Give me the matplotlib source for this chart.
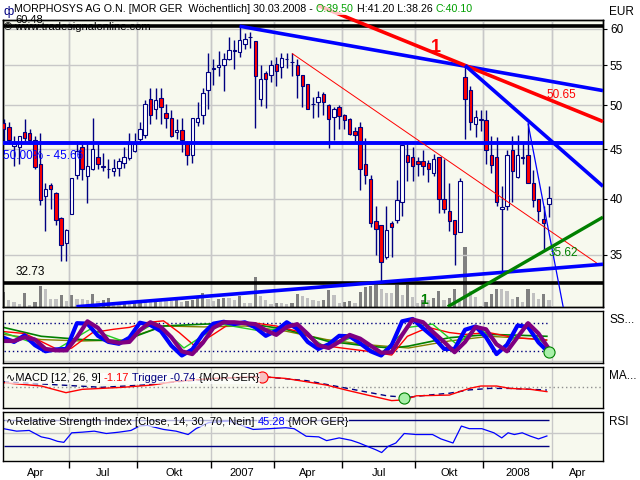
import numpy as np
import pandas as pd
import matplotlib
matplotlib.use("Agg")
import matplotlib.pyplot as plt
from matplotlib.ticker import FixedLocator, FixedFormatter, NullLocator

plt.rcParams['font.family'] = ['Liberation Sans', 'DejaVu Sans']

# ---- weekly candles MOR GER ----
start_date = "2006-04-02"
opens = [47.9, 47.5, 45.4, 45.3, 46.9, 46.8, 46.0, 43.5, 40.3, 41.3,
         40.5, 38.2, 36.0, 38.6, 42.3, 45.3, 42.2, 42.9, 44.2, 43.1,
         42.95, 42.7, 43.0, 43.6, 44.1, 44.8, 46.1, 46.6, 50.7, 49.5,
         50.9, 49.1, 48.5, 46.9, 47.15, 45.6, 44.4, 48.0, 48.8, 51.9,
         54.5, 54.8, 55.1, 55.8, 56.9, 56.8, 57.9, 58.8, 58.3, 50.8,
         54.0, 53.7, 55.2, 54.8, 55.8, 55.5, 55.0, 53.8, 52.6, 50.1,
         50.4, 51.4, 50.0, 48.6, 49.8, 48.8, 48.4, 47.0, 47.5, 43.5,
         41.9, 37.9, 37.6, 34.8, 37.7, 38.0, 39.7, 44.4, 44.2, 43.8,
         43.8, 43.55, 42.5, 44.2, 40.0, 38.8, 38.0, 36.9, 53.5, 51.9,
         47.8, 48.3, 48.3, 44.4, 44.2, 39.0, 39.3, 44.96, 42.1, 44.1,
         44.4, 41.5, 40.0, 38.1, 39.5]
highs = [48.4, 48.1, 46.5, 46.5, 48.4, 47.3, 46.5, 46.8, 41.5, 41.5,
         40.6, 38.3, 37.2, 42.0, 45.9, 45.6, 45.6, 48.5, 45.6, 44.6,
         44.0, 44.0, 44.1, 45.3, 46.8, 46.8, 48.0, 50.65, 52.1, 52.1,
         52.1, 50.2, 49.4, 48.4, 48.5, 45.9, 48.5, 50.4, 52.1, 56.6,
         55.8, 56.9, 56.7, 58.8, 58.4, 60.4, 59.4, 59.6, 58.3, 55.1,
         54.3, 55.7, 56.1, 56.6, 56.6, 56.6, 55.9, 53.8, 52.6, 51.0,
         51.7, 51.6, 50.1, 49.8, 50.0, 49.0, 48.5, 47.5, 48.0, 46.2,
         42.35, 39.3, 37.6, 39.3, 37.9, 41.85, 45.5, 45.6, 45.3, 44.2,
         44.96, 43.9, 44.5, 44.2, 44.0, 41.5, 38.0, 42.0, 54.9, 52.3,
         49.45, 49.45, 49.45, 46.5, 46.4, 41.2, 44.96, 46.5, 46.6, 45.8,
         47.9, 42.8, 40.0, 39.3, 41.2]
lows = [45.9, 45.6, 43.2, 43.5, 45.8, 45.6, 42.9, 39.4, 37.0, 39.0,
        37.6, 34.5, 34.5, 38.6, 41.9, 41.8, 39.6, 42.8, 42.9, 42.7,
        42.0, 42.2, 42.2, 43.0, 43.9, 44.75, 45.8, 46.2, 47.8, 48.4,
        47.8, 47.4, 46.3, 46.1, 44.7, 43.4, 43.6, 47.6, 47.8, 49.5,
        52.5, 53.6, 51.7, 55.7, 54.5, 56.1, 57.2, 57.4, 47.4, 49.9,
        49.7, 52.8, 52.4, 53.4, 54.6, 53.6, 50.9, 49.8, 49.5, 48.5,
        48.6, 48.9, 45.1, 46.0, 47.3, 47.2, 46.6, 45.9, 40.8, 41.4,
        37.4, 35.0, 32.8, 34.6, 34.8, 37.7, 38.4, 41.7, 41.7, 42.2,
        42.35, 41.6, 42.25, 38.7, 38.7, 37.0, 34.1, 36.9, 46.1, 47.1,
        46.3, 47.0, 43.5, 42.5, 39.3, 33.6, 38.96, 39.7, 42.0, 43.5,
        41.5, 39.2, 37.9, 35.4, 38.26]
closes = [47.3, 46.0, 45.6, 46.5, 46.2, 46.0, 43.1, 39.9, 40.9, 40.9,
          38.0, 35.8, 37.1, 42.0, 44.8, 42.9, 43.2, 45.0, 43.5, 43.2,
          42.9, 43.0, 43.8, 44.2, 45.6, 45.6, 47.2, 50.2, 48.8, 50.65,
          49.8, 48.5, 46.5, 47.15, 46.0, 44.4, 48.5, 48.5, 51.5, 54.2,
          54.6, 55.0, 55.9, 57.0, 57.0, 58.45, 58.6, 58.8, 53.6, 53.3,
          53.3, 55.0, 54.3, 56.0, 55.9, 55.4, 53.7, 52.3, 49.5, 50.2,
          51.0, 50.4, 48.4, 49.6, 48.7, 48.3, 46.7, 46.6, 42.9, 42.35,
          37.7, 37.2, 34.4, 37.1, 37.4, 39.9, 45.5, 43.7, 43.3, 43.5,
          43.3, 42.95, 44.0, 40.0, 39.0, 37.9, 36.8, 41.7, 50.7, 48.1,
          48.6, 48.3, 44.9, 43.4, 39.7, 39.2, 44.4, 42.7, 44.4, 44.1,
          41.5, 39.9, 38.8, 37.7, 40.1]
volume = [150, 67, 50, 27, 140, 17, 50, 207, 177, 77,
          77, 117, 57, 117, 77, 77, 67, 127, 57, 67,
          93, 40, 33, 40, 33, 50, 67, 67, 57, 73,
          73, 60, 60, 67, 50, 60, 67, 93, 140, 77,
          60, 83, 93, 93, 67, 107, 40, 40, 300, 107,
          67, 27, 40, 40, 27, 40, 133, 107, 93, 67,
          60, 67, 167, 117, 40, 50, 57, 40, 150, 200,
          210, 217, 183, 140, 140, 217, 117, 217, 100, 40,
          67, 67, 93, 160, 67, 93, 183, 67, 600, 157,
          100, 7, 50, 127, 183, 183, 160, 83, 100, 50,
          183, 140, 83, 127, 73]

# horizontal levels and trend lines (bar index, price)
level_top = 60.48
level_low = 32.73
level_mid = 45.66
trend_blue_top = [(45, 60.4), (88, 54.9)]
trend_red_top = [(88, 55.0), (114.3, 48.1)]
trend_blue_steep = [(88, 55.0), (114.3, 41.2)]
trend_blue_thin = [(100, 47.9), (106.7, 30.9)]
trend_red_thin = [(55, 56.6), (113.1, 34.3)]
trend_blue_low = [(13.9, 30.9), (114.3, 34.2)]
trend_green = [(84.7, 30.9), (113.3, 38.0)]

# ---- oscillator panel "SS..." ----
stoch_weeks = list(range(0, 105, 2))
stoch_fast = [49, 40, 54, 33, 20, 24, 25, 80, 79, 53, 40, 36, 49, 81, 76, 63, 32, 11, 24, 57,
              79, 83, 78, 82, 71, 53, 64, 82, 68, 40, 25, 35, 53, 52, 37, 20, 11, 33, 84, 89,
              69, 50, 25, 25, 66, 73, 50, 14, 34, 75, 72, 39, 17]
stoch_slow = [42, 42, 50, 45, 25, 22, 22, 50, 84, 70, 42, 38, 40, 65, 82, 72, 50, 20, 14, 38,
              70, 82, 82, 80, 78, 65, 55, 72, 78, 57, 33, 27, 40, 55, 47, 32, 17, 18, 55, 88,
              82, 60, 40, 18, 40, 72, 67, 35, 20, 50, 80, 58, 25]
red_weeks = [0, 4, 7, 11, 13, 17, 21, 24, 27, 30.5, 33.5, 36.5, 40, 43, 47.5, 52, 57, 60,
             64.5, 69.5, 74, 77, 81, 85, 88, 92.5, 97.5, 103.5]
red_vals = [62, 58, 42, 20, 27, 60, 67, 71, 81, 85, 60, 31, 56, 78, 81, 74, 60, 34,
            27, 20, 12, 52, 71, 60, 56, 60, 49, 44]
green_weeks = [0, 7.2, 15, 22.7, 30.5, 38.3, 46.1, 53.8, 61.6, 69.4, 74, 77.2, 85, 92.7, 98.9, 103.6]
green_vals = [71, 52, 45, 42, 74, 78, 80, 67, 42, 31, 27, 31, 49, 56, 54, 52]
olive_weeks = [0, 7.2, 15, 22.7, 30.5, 38.3, 46.1, 53.8, 61.6, 69.4, 77.2, 85, 92.7, 100.5, 103.6]
olive_vals = [56, 45, 42, 44, 74, 72, 74, 63, 45, 34, 27, 42, 52, 47, 44]
lime_weeks = [0, 5.6, 9.5, 16.5, 22.7, 29, 34.4, 41.4, 49.2, 55.4, 61.6, 66.3, 71.7, 77.2,
              81.8, 86.5, 90.4, 95, 99.7, 103.6]
lime_vals = [60, 38, 20, 67, 42, 81, 27, 78, 63, 74, 27, 49, 13, 71, 78, 34, 74, 27, 71, 31]

# ---- MACD ----
macd_weeks = [0, 7.2, 11.9, 15, 22.7, 28.2, 32.9, 39.9, 49.2, 53.8, 57.8, 61.6, 65.5, 69.4,
              74, 76.4, 78.7, 85, 88.8, 91, 94, 96.6, 100.5, 103.6]
macd_vals = [1.25, 0.35, -1.45, -0.55, 0.0, 0.6, 1.6, 2.4, 2.9, 2.4, 1.5, 0.6, -0.8, -2.1,
             -3.6, -3.4, -2.3, -2.1, -0.3, 0.35, 0.35, -0.3, -0.55, -1.17]
trig_weeks = [0, 11.1, 18.8, 26.5, 33, 40, 49.2, 57.8, 65.5, 73.3, 77.2, 81, 85, 88.8,
              92.7, 96.6, 100.5, 103.6]
trig_vals = [1.5, 0.6, 0.0, 0.6, 1.5, 2.3, 2.9, 1.8, -0.27, -2.35, -2.7, -2.1, -1.6, -0.7,
             -0.3, -0.3, -0.55, -0.74]

# ---- RSI ----
rsi_weeks = [0, 2.5, 4.9, 7.2, 8.8, 10.3, 11.5, 13.0, 15.0, 17.3, 19.6, 22.0, 24.3, 25.9,
             27.4, 30.5, 32.9, 35.2, 36.7, 39.1, 43.0, 47.6, 50.7, 53.8, 55.4, 57.7, 60.1,
             61.6, 64.0, 66.3, 67.8, 69.4, 71.0, 72.1, 73.3, 74.8, 76.4, 78.7, 81.8, 83.4,
             85.7, 87.3, 88.8, 91.2, 93.5, 95.0, 96.2, 97.4, 98.9, 100.5, 102.0, 103.6]
rsi_vals = [56.8, 52.9, 54.0, 43.9, 41.2, 36.9, 35.3, 50.3, 51.3, 52.9, 49.2, 51.3, 54.0, 60.9,
            62.0, 55.6, 52.9, 47.6, 56.8, 66.3, 68.9, 55.6, 56.8, 58.3, 56.8, 44.9, 43.9,
            38.0, 42.3, 38.5, 34.3, 28.9, 23.6, 19.3, 28.9, 34.3, 49.2, 47.6, 47.6, 40.7,
            34.3, 60.9, 56.8, 56.8, 50.3, 42.3, 50.3, 47.6, 50.3, 44.9, 40.7, 45.3]

month_names = {1: None, 4: "Apr", 7: "Jul", 10: "Okt"}

BG = "#F7F9EE"
NAVY = "#000080"
GRID = "#C8C8C8"
BLUE = "#0000FF"
RED = "#FF0000"
GREEN = "#008000"

n = len(closes)
idx = np.arange(n)
xmin, xmax = -0.1, 114.3

fig = plt.figure(figsize=(6.4, 4.8), dpi=100)


def box(x0, y0, x1, y1):
    # pixel box -> figure fraction
    return [x0 / 640, 1 - y1 / 480, (x1 - x0) / 640, (y1 - y0) / 480]


ax_v = fig.add_axes(box(3, 20, 603, 307))
ax = fig.add_axes(box(3, 20, 603, 307), sharex=ax_v)
ax_s = fig.add_axes(box(3, 311, 603, 363), sharex=ax_v)
ax_m = fig.add_axes(box(3, 367, 603, 408), sharex=ax_v)
ax_r = fig.add_axes(box(3, 412, 603, 461), sharex=ax_v)

ax_v.set_zorder(0)
ax.set_zorder(1)
ax.patch.set_visible(False)
for a in (ax_v, ax_s, ax_m, ax_r):
    a.set_facecolor(BG)
for a in (ax_v, ax, ax_s, ax_m, ax_r):
    for sp in a.spines.values():
        sp.set_color("black")
        sp.set_linewidth(1)

# quarter boundaries from the weekly dates
all_dates = pd.date_range(start_date, periods=120, freq="7D")
bounds, names = [-0.5], ["Apr"]
for i in range(1, len(all_dates)):
    m = all_dates[i].month
    if m != all_dates[i - 1].month and m in month_names:
        bounds.append(i - 0.5)
        names.append(month_names[m] or str(all_dates[i].year))
label_pos, label_txt = [], []
for k in range(len(bounds)):
    lo = max(bounds[k], xmin)
    hi = min(bounds[k + 1], xmax) if k + 1 < len(bounds) else xmax
    if lo < xmax:
        label_pos.append((lo + hi) / 2)
        label_txt.append(names[k])
vis_bounds = [b for b in bounds if xmin - 1 < b < xmax]

ax_v.set_xlim(xmin, xmax)
ax_r.xaxis.set_major_locator(FixedLocator(vis_bounds))
ax_r.xaxis.set_minor_locator(FixedLocator(label_pos))
ax_r.xaxis.set_minor_formatter(FixedFormatter(label_txt))
for a in (ax_v, ax, ax_s, ax_m, ax_r):
    a.grid(True, axis="x", which="major", color=GRID, lw=1)
    a.set_axisbelow(True)
    a.tick_params(axis="x", which="both", bottom=False, labelbottom=False)
    a.tick_params(axis="y", left=False, labelleft=False)

ax_r.tick_params(axis="x", which="major", bottom=True, direction="out", length=5, width=1)
ax_r.tick_params(axis="x", which="minor", bottom=False, labelbottom=True, labelsize=8, pad=3)

# ---- volume (behind price) ----
vol_colors = ["#808080" if i == 0 or volume[i] > volume[i - 1] else "#C0C0C0" for i in range(n)]
ax_v.bar(idx, volume, width=0.62, color=vol_colors, zorder=1)
ax_v.set_ylim(0, 2870)
ax_v.set_yticks([])

# ---- price panel ----
ax.set_yscale("log")
ax.set_ylim(30.88, 61.3)
ax.yaxis.set_major_locator(FixedLocator([35, 40, 45, 50, 55, 60]))
ax.yaxis.set_major_formatter(FixedFormatter(["35", "40", "45", "50", "55", "60"]))
ax.yaxis.set_minor_locator(NullLocator())
ax.yaxis.tick_right()
ax.tick_params(axis="y", right=True, labelright=True, length=3, pad=2, labelsize=8.5)
ax.grid(True, axis="y", color=GRID, lw=1)

o, h, l, c = map(np.array, (opens, highs, lows, closes))
ax.vlines(idx, l, h, color=NAVY, lw=1, zorder=3)
body_lo = np.minimum(o, c)
body_h = np.maximum(np.abs(c - o), 0.08)
ax.bar(idx, body_h, bottom=body_lo, width=0.66,
       color=np.where(c < o, RED, "white"), edgecolor=NAVY, lw=0.8, zorder=4)


def trend(a, pts, x_from, x_to, **kw):
    (x0, p0), (x1, p1) = pts
    k = (np.log(p1) - np.log(p0)) / (x1 - x0)
    xs = np.linspace(x_from, x_to, 50)
    a.plot(xs, p0 * np.exp(k * (xs - x0)), solid_capstyle="butt", **kw)


ax.axhline(level_top, color="black", lw=2.6, zorder=5)
ax.axhline(level_low, color="black", lw=2.6, zorder=5)
ax.axhline(level_mid, color=BLUE, lw=2.8, zorder=5)
trend(ax, trend_red_thin, 55, 113.1, color=RED, lw=0.7, zorder=5)
trend(ax, trend_blue_thin, 100, 108, color=BLUE, lw=0.9, zorder=5)
trend(ax, trend_blue_low, 13.9, xmax, color=BLUE, lw=2.6, zorder=6)
trend(ax, trend_green, 84.7, xmax, color=GREEN, lw=2.4, zorder=6)
trend(ax, trend_blue_top, 45, xmax, color=BLUE, lw=2.6, zorder=6)
trend(ax, trend_red_top, 60, xmax, color=RED, lw=2.6, zorder=6, clip_on=False)
trend(ax, trend_blue_steep, 88, xmax, color=BLUE, lw=2.6, zorder=6)

ax.text(-0.1, 44.3, "50.00% - 45.66", color=BLUE, fontsize=8.5, va="center", zorder=7)
ax.text(2.3, 33.6, "32.73", color="black", fontsize=8.5, va="center", zorder=7)
ax.text(82.4, 57.4, "1", color=RED, fontsize=13, fontweight="bold", ha="center", va="center", zorder=7)
ax.text(106.4, 51.3, "50.65", color=RED, fontsize=8.5, ha="center", va="center", zorder=7)
ax.text(106.8, 35.1, "35.62", color=GREEN, fontsize=8.5, ha="center", va="center", zorder=7)
ax.text(80.1, 31.4, "1", color=GREEN, fontsize=10, fontweight="bold", ha="center", va="center", zorder=7)

fig.text(15 / 640, 1 - 20 / 480, "60.48", fontsize=8, va="center")
fig.text(4 / 640, 1 - 27 / 480, "\u00a9 www.tradesignalonline.com", fontsize=8, va="center")

# ---- oscillator panel ----
ax_s.set_ylim(-5, 106)
ax_s.axhline(0, color=GRID, lw=1)
ax_s.hlines([80, 20], 0, n - 1, color=NAVY, lw=1, linestyles=(0, (1, 2)))
ax_s.plot(olive_weeks, olive_vals, color="#808000", lw=1)
ax_s.plot(green_weeks, green_vals, color=GREEN, lw=1.2)
ax_s.plot(red_weeks, red_vals, color=RED, lw=1)
ax_s.plot(lime_weeks, lime_vals, color="#22CC22", lw=1)
ax_s.plot(stoch_weeks, stoch_fast, color=BLUE, lw=3)
ax_s.plot(stoch_weeks, stoch_slow, color="#800080", lw=3)
ax_s.plot(stoch_weeks[-1], stoch_slow[-1] - 6, "o", ms=8, mfc="#A8F0A8", mec=GREEN, mew=0.8)

# ---- MACD panel ----
ax_m.set_ylim(-5.6, 5.5)
ax_m.axhline(0, color="#909090", lw=1, ls=(0, (1, 2)))
ax_m.plot(trig_weeks, trig_vals, color=NAVY, lw=1, ls=(0, (4, 3)))
ax_m.plot(macd_weeks, macd_vals, color=RED, lw=1)
ax_m.plot(49.2, 2.9, "o", ms=8, mfc="#F8C0C0", mec=RED, mew=0.8, zorder=5)
ax_m.plot(76.4, -2.9, "o", ms=8, mfc="#A8F0A8", mec=GREEN, mew=0.8, zorder=5)

# ---- RSI panel ----
ax_r.set_ylim(6, 83)
ax_r.axhline(50, color=GRID, lw=1)
ax_r.hlines([30, 70], 0, n - 1, color=NAVY, lw=1)
ax_r.plot(rsi_weeks, rsi_vals, color=BLUE, lw=0.9)


def chain(a, x, y, parts, size, bbox=None):
    t = a.text(x, y, parts[0][0], color=parts[0][1], fontsize=size, va="bottom",
               transform=a.transAxes, bbox=bbox, zorder=8)
    for s, col in parts[1:]:
        t = a.annotate(s, xy=(1, 0), xycoords=t, color=col, fontsize=size, va="bottom",
                       bbox=bbox, zorder=8, annotation_clip=False)
    return t


lab_box = dict(facecolor="white", alpha=0.7, edgecolor="none", pad=0.6)
chain(ax_m, 0.005, 0.6, [("\u223fMACD [12, 26, 9] ", "black"), ("-1.17", RED),
                         (" Trigger -0.74", NAVY), (" {MOR GER}", "black")], 8, lab_box)
chain(ax_r, 0.005, 0.7, [("\u223fRelative Strength Index [Close, 14, 30, 70, Nein] ", "black"),
                         ("45.28", BLUE), (" {MOR GER}", "black")], 8, lab_box)

# header
head_box = dict(facecolor="white", alpha=0.75, edgecolor="none", pad=0.8)
chain(ax, 11 / 600, 1 + 6 / 287, [("MORPHOSYS AG O.N. [MOR GER  W\u00f6chentlich] 30.03.2008 - ", "black"),
                                  ("O:39.50", "#00A000"), (" H:41.20 L:38.26 ", "black"),
                                  ("C:40.10", "#00A000")], 7.7, head_box)
fig.text(3 / 640, 1 - 12 / 480, "\u0444", color=NAVY, fontsize=9, va="center")

fig.text(609 / 640, 1 - 12 / 480, "EUR", fontsize=8.5, va="center")
fig.text(609 / 640, 1 - 320 / 480, "SS...", fontsize=8.5, va="center")
fig.text(609 / 640, 1 - 376 / 480, "MA...", fontsize=8.5, va="center")
fig.text(609 / 640, 1 - 422 / 480, "RSI", fontsize=8.5, va="center")

fig.savefig("out.png", dpi=100)
